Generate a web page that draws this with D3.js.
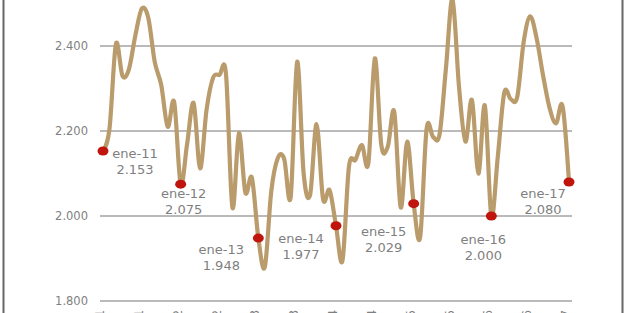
<!DOCTYPE html>
<html>
<head>
<meta charset="utf-8">
<script src="https://cdn.jsdelivr.net/npm/d3@7"></script>
<style>
  body { margin: 0; background: #fff; }
  svg { display: block; font-family: "DejaVu Sans", Verdana, sans-serif; }
</style>
</head>
<body>
<script>
const WIDTH = 626;
const HEIGHT = 313;

// Meses (ene-11 ... ene-17), un punto por mes
const meses = ["ene", "feb", "mar", "abr", "may", "jun", "jul", "ago", "sep", "oct", "nov", "dic"];
const anios = ["11", "12", "13", "14", "15", "16", "17"];

// Valores
const valores = [
  2153, 2205, 2405, 2330, 2345, 2425, 2488, 2466, 2362, 2308, 2210, 2268,
  2075, 2170, 2266, 2112, 2250, 2325, 2332, 2334, 2020, 2195, 2055, 2090,
  1948, 1880, 2058, 2136, 2134, 2045, 2363, 2100, 2050, 2216, 2040, 2061,
  1977, 1895, 2116, 2132, 2167, 2124, 2371, 2167, 2163, 2245, 2020, 2175,
  2029, 1950, 2205, 2186, 2192, 2350, 2510, 2305, 2175, 2273, 2100, 2260,
  2000, 2140, 2290, 2275, 2280, 2410, 2470, 2418, 2330, 2254, 2218, 2259,
  2080
];

// Marcadores de enero
const marcadores = ["ene-11", "ene-12", "ene-13", "ene-14", "ene-15", "ene-16", "ene-17"];
// Desplazamiento de las etiquetas respecto del punto
const desplazamientos = [[32, 2], [3, 9], [-37, 11], [-35, 13], [-30, 28], [-8, 23], [-26, 11]];

const ticksY = [1800, 2000, 2200, 2400];

const categorias = [];
anios.forEach((a) => meses.forEach((m) => categorias.push(m + "-" + a)));
categorias.length = valores.length;
const ticksX = categorias.filter((c, i) => i % 6 === 0);

const locale = d3.formatLocale({ decimal: ",", thousands: ".", grouping: [3], currency: ["", ""] });
const formato = locale.format(",.0f");

const svg = d3.select("body").append("svg").attr("width", WIDTH).attr("height", HEIGHT);

const x = d3.scalePoint().domain(categorias).range([103, 569]);
const y = d3.scaleLinear().domain([1800, 2600]).range([301, -39]);

// Líneas de la cuadrícula
svg.append("g")
  .selectAll("line")
  .data(ticksY)
  .join("line")
  .attr("x1", 100)
  .attr("x2", 572)
  .attr("y1", (d) => y(d))
  .attr("y2", (d) => y(d))
  .attr("stroke", "#a3a3a3")
  .attr("stroke-width", 1.3);

// Etiquetas del eje Y
svg.append("g")
  .selectAll("text")
  .data(ticksY)
  .join("text")
  .attr("x", 88)
  .attr("y", (d) => y(d))
  .attr("dy", "0.35em")
  .attr("text-anchor", "end")
  .attr("font-size", 11.5)
  .attr("fill", "#7f7f7f")
  .text((d) => formato(d));

// Etiquetas del eje X (rotadas, casi fuera de la imagen)
svg.append("g")
  .selectAll("text")
  .data(ticksX)
  .join("text")
  .attr("transform", (d) => `translate(${x(d) + 1},310) rotate(-90)`)
  .attr("text-anchor", "end")
  .attr("font-size", 11.5)
  .attr("fill", "#7f7f7f")
  .text((d) => d);

// Serie
const linea = d3.line()
  .x((d, i) => x(categorias[i]))
  .y((d) => y(d))
  .curve(d3.curveCardinal.tension(0));

svg.append("path")
  .datum(valores)
  .attr("d", linea)
  .attr("fill", "none")
  .attr("stroke", "#b99b6c")
  .attr("stroke-width", 4.2)
  .attr("stroke-linejoin", "round");

// Puntos de enero
const puntos = marcadores.map((m) => ({ cat: m, valor: valores[categorias.indexOf(m)] }));

svg.append("g")
  .selectAll("ellipse")
  .data(puntos)
  .join("ellipse")
  .attr("cx", (d) => x(d.cat))
  .attr("cy", (d) => y(d.valor))
  .attr("rx", 5.5)
  .attr("ry", 4.5)
  .attr("fill", "#c0150c");

const etiquetas = svg.append("g")
  .selectAll("text")
  .data(puntos)
  .join("text")
  .attr("text-anchor", "middle")
  .attr("font-size", 13)
  .attr("fill", "#7f7f7f");

etiquetas.append("tspan")
  .attr("x", (d, i) => x(d.cat) + desplazamientos[i][0])
  .attr("y", (d, i) => y(d.valor) + desplazamientos[i][1])
  .attr("dy", "0.35em")
  .text((d) => d.cat);

etiquetas.append("tspan")
  .attr("x", (d, i) => x(d.cat) + desplazamientos[i][0])
  .attr("y", (d, i) => y(d.valor) + desplazamientos[i][1] + 16)
  .attr("dy", "0.35em")
  .text((d) => formato(d.valor));

// Marco
svg.append("rect")
  .attr("x", 3.5)
  .attr("y", -10)
  .attr("width", 619)
  .attr("height", HEIGHT + 20)
  .attr("fill", "none")
  .attr("stroke", "#666")
  .attr("stroke-width", 2);
</script>
</body>
</html>
